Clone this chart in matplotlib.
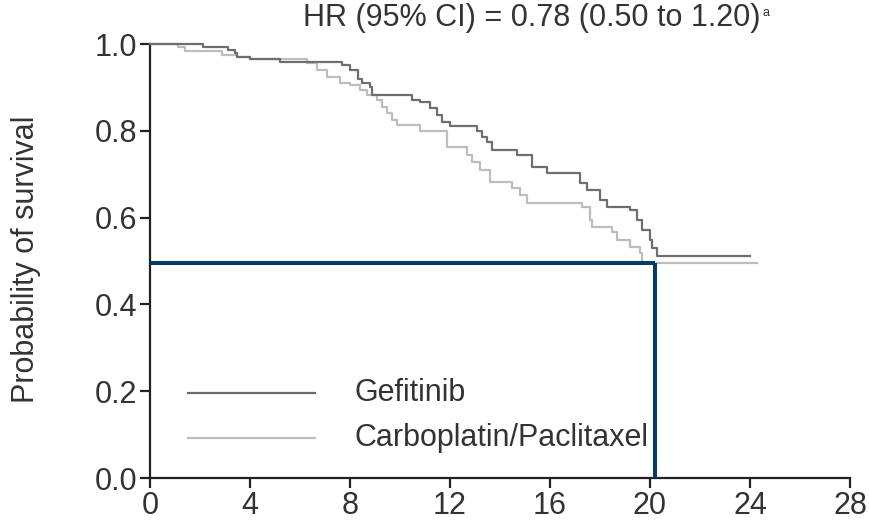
import matplotlib
matplotlib.use("Agg")
import matplotlib.pyplot as plt

plt.rcParams['font.family'] = ['Liberation Sans', 'DejaVu Sans']

# Kaplan-Meier step data (time in months, survival probability)
gef_t = [0, 2.1, 3.1, 3.4, 3.5, 4.0, 5.2, 7.7, 8.0, 8.3, 8.5, 8.8, 8.9, 10.5, 10.8, 11.2, 11.5, 11.7,
         12.0, 13.1, 13.3, 13.5, 13.7, 14.7, 15.3, 15.9, 17.2, 17.5, 18.0, 18.3, 19.2, 19.5, 19.7,
         20.0, 20.1, 20.3, 24.0]
gef_p = [1.0, 0.993, 0.986, 0.98, 0.97, 0.965, 0.958, 0.952, 0.94, 0.92, 0.91, 0.90, 0.882, 0.87,
         0.866, 0.853, 0.836, 0.82, 0.81, 0.80, 0.786, 0.774, 0.756, 0.744, 0.717, 0.703, 0.68, 0.664,
         0.64, 0.624, 0.617, 0.594, 0.571, 0.548, 0.53, 0.511, 0.511]

cp_t = [0, 1.1, 1.4, 2.9, 3.5, 4.0, 6.3, 6.7, 7.1, 7.6, 8.0, 8.4, 8.7, 9.1, 9.3, 9.5, 9.7, 9.9, 10.8,
        11.9, 12.7, 12.9, 13.2, 13.6, 14.5, 14.8, 15.1, 17.3, 17.6, 17.7, 18.5, 18.7, 19.2, 19.6,
        19.7, 24.3]
cp_p = [1.0, 0.993, 0.984, 0.975, 0.97, 0.965, 0.956, 0.94, 0.924, 0.91, 0.906, 0.894, 0.882, 0.871,
        0.855, 0.841, 0.825, 0.813, 0.80, 0.763, 0.744, 0.728, 0.71, 0.682, 0.668, 0.652, 0.634, 0.624,
        0.594, 0.578, 0.567, 0.548, 0.532, 0.518, 0.495, 0.495]

median_p = 0.495
median_t = 20.2

x_ticks = [0, 4, 8, 12, 16, 20, 24, 28]
y_ticks = [0.0, 0.2, 0.4, 0.6, 0.8, 1.0]
y_labels = ['0.0', '0.2', '0.4', '0.6', '0.8', '1.0']

series_names = ['Gefitinib', 'Carboplatin/Paclitaxel']
title_text = 'HR (95% CI) = 0.78 (0.50 to 1.20)'
title_sup = 'a'

FS = 22
TXT = '#333333'

fig = plt.figure(figsize=(8.69, 5.24), dpi=100)
ax = fig.add_axes([150/869, 1-478/524, 700/869, 434/524])

ax.step(cp_t, cp_p, where='post', color='#bdbdbd', lw=1.6, clip_on=False, zorder=2)
ax.step(gef_t, gef_p, where='post', color='#6e6e6e', lw=1.6, clip_on=False, zorder=3)

# median lines
ax.plot([0, median_t], [median_p, median_p], color='#063c63', lw=2.9, solid_capstyle='butt', zorder=4, clip_on=False)
ax.plot([median_t, median_t], [median_p, 0], color='#063c63', lw=2.9, solid_capstyle='butt', zorder=4, clip_on=False)

ax.set_xlim(0, 28)
ax.set_ylim(0, 1.0)
ax.set_xticks(x_ticks)
ax.set_xticklabels([str(v) for v in x_ticks])
ax.set_yticks(y_ticks)
ax.set_yticklabels(y_labels)
for s in ['top', 'right']:
    ax.spines[s].set_visible(False)
for s in ['left', 'bottom']:
    ax.spines[s].set_linewidth(1.6)
    ax.spines[s].set_color('#222222')
ax.tick_params(axis='both', which='major', length=7, width=1.6, color='#222222',
               labelsize=FS, labelcolor=TXT, pad=2)

fig.text(26/869, 1-259/524, 'Probability of survival', rotation=90, fontsize=FS, color=TXT,
         ha='center', va='center')

# legend (drawn manually like the original)
leg_y = [0.197, 0.092]
leg_cols = ['#6e6e6e', '#bdbdbd']
for name, yy, c in zip(series_names, leg_y, leg_cols):
    ax.plot([1.5, 6.6], [yy, yy], color=c, lw=1.6, clip_on=False)
    ax.text(8.2, yy, name, fontsize=FS, color=TXT, va='center', ha='left')

t = fig.text(303/869, 1-18/524, title_text, fontsize=FS, color=TXT, ha='left', va='center')
fig.canvas.draw()
bb = t.get_window_extent(renderer=fig.canvas.get_renderer())
fig.text((bb.x1 + 2)/869, (bb.y1 - 4)/524, title_sup, fontsize=9, color=TXT, ha='left', va='top')

fig.savefig('out.png', dpi=100, facecolor='white')
